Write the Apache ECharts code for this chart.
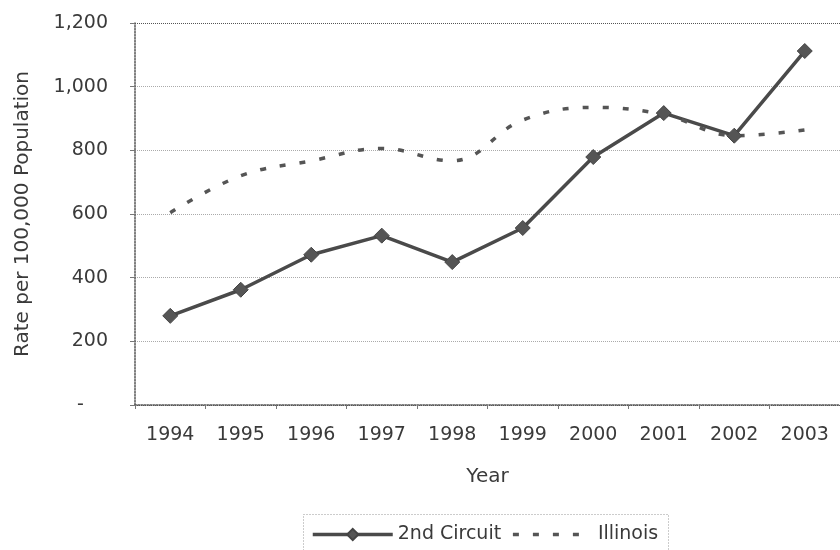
<!DOCTYPE html>
<html><head><meta charset="utf-8">
<script src="https://cdn.jsdelivr.net/npm/echarts@6/dist/echarts.min.js"></script>
<style>html,body{margin:0;padding:0;background:#fff}#c{width:840px;height:550px}</style>
</head><body><div id="c"></div>
<script>
var years = ['1994','1995','1996','1997','1998','1999','2000','2001','2002','2003'];
var secondCircuit = [280, 362, 472, 532, 449, 556, 779, 917, 846, 1112];
var illinois = [604, 720, 767, 806, 767, 895, 935, 912, 846, 864];
var yTicks = [0, 200, 400, 600, 800, 1000, 1200];

var chart = echarts.init(document.getElementById('c'));
var FONT = '"DejaVu Sans", sans-serif';
var TXT = '#3a3a3a';
chart.setOption({
  animation: false,
  textStyle: {fontFamily: FONT},
  grid: {left: 135, right: 0, top: 23, bottom: 145},
  xAxis: {
    type: 'category', data: years, boundaryGap: true,
    name: 'Year', nameLocation: 'middle', nameGap: 62,
    nameTextStyle: {fontSize: 20, color: TXT, fontFamily: FONT},
    axisLine: {lineStyle: {color: '#555', type: 'dotted', width: 1.5}},
    axisTick: {show: true, length: 4, lineStyle: {color: '#777'}},
    axisLabel: {fontSize: 19, color: TXT, margin: 21, fontFamily: FONT}
  },
  yAxis: {
    type: 'value', min: yTicks[0], max: yTicks[yTicks.length - 1], interval: 200,
    name: 'Rate per 100,000 Population', nameLocation: 'middle', nameGap: 102,
    nameRotate: 90,
    nameTextStyle: {fontSize: 20, color: TXT, fontFamily: FONT},
    axisLine: {show: true, lineStyle: {color: '#555', type: 'dotted', width: 1.5}},
    axisTick: {show: true, length: 5, lineStyle: {color: '#777'}},
    axisLabel: {fontSize: 19, color: TXT, margin: 27, fontFamily: FONT,
      formatter: function (v) { return v === 0 ? '-    ' : v.toLocaleString('en-US'); }},
    splitLine: {lineStyle: {color: ['#555','#aaa','#aaa','#aaa','#aaa','#aaa','#555'], type: 'dotted', width: 1}}
  },
  legend: {
    left: 306, top: 520, itemWidth: 80, itemHeight: 14, itemGap: 10,
    textStyle: {fontSize: 19, color: TXT, fontFamily: FONT},
    lineStyle: {width: 3.5},
    data: [{name: '2nd Circuit'}, {name: 'Illinois', itemStyle: {opacity: 0}}]
  },
  graphic: [{
    type: 'rect', left: 301, top: 512, z: -1,
    shape: {width: 365, height: 37},
    style: {fill: 'none', stroke: '#999', lineWidth: 1, lineDash: [1, 2]}
  }],
  series: [{
    name: '2nd Circuit', type: 'line', data: secondCircuit,
    symbol: 'diamond', symbolSize: 15,
    lineStyle: {color: '#4a4a4a', width: 3.5},
    itemStyle: {color: '#555', borderColor: '#444', borderWidth: 1}
  }, {
    name: 'Illinois', type: 'line', data: illinois, smooth: 0.4,
    symbol: 'none',
    lineStyle: {color: '#555', width: 3.5, type: [6, 14]},
    itemStyle: {color: '#555'}
  }]
});
</script></body></html>
